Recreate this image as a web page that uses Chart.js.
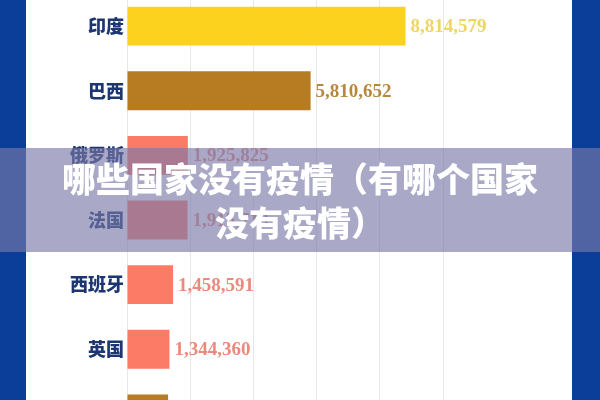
<!DOCTYPE html>
<html>
<head>
<meta charset="utf-8">
<script src="https://cdn.jsdelivr.net/npm/chart.js@4"></script>
<style>
  html, body { margin:0; padding:0; width:600px; height:400px; overflow:hidden; background:#0a3e98; }
  #panel { position:absolute; left:26px; top:0; width:546px; height:400px; background:#ffffff; }
  #wrap { position:absolute; left:0; top:-20px; width:600px; height:480px; }
  #banner { position:absolute; left:0; top:148px; width:600px; height:104px; background:rgba(120,120,168,0.64);
    display:flex; align-items:center; justify-content:center; text-align:center;
    color:#ffffff; font-family:"Noto Sans CJK SC", sans-serif; font-weight:900; font-size:34px; line-height:44px; }
</style>
</head>
<body>
<div id="panel"></div>
<div id="wrap"><canvas id="c"></canvas></div>
<div id="banner"><div>哪些国家没有疫情（有哪个国家<br>没有疫情）</div></div>
<script>
const categories = ["印度", "巴西", "俄罗斯", "法国", "西班牙", "英国", "阿根廷"];
const cases = [8814579, 5810652, 1925825, 1915713, 1458591, 1344360, 1300000];
const barColors = ["#fdd21f", "#b77b22", "#fc7b67", "#fc7b67", "#fc7b67", "#fc7b67", "#b77b22"];
const labelColors = ["#f0d466", "#b6883d", "#eb8a7c", "#eb8a7c", "#eb8a7c", "#eb8a7c", "#b6883d"];
const xTicks = [0, 2000000, 4000000, 6000000, 8000000, 10000000];

const valueLabels = {
  id: 'valueLabels',
  afterDatasetsDraw(chart) {
    const ctx = chart.ctx;
    const meta = chart.getDatasetMeta(0);
    ctx.save();
    ctx.font = 'bold 19px "Liberation Serif", serif';
    ctx.textBaseline = 'middle';
    ctx.textAlign = 'left';
    meta.data.forEach((bar, i) => {
      ctx.fillStyle = labelColors[i];
      ctx.fillText(cases[i].toLocaleString('en-US'), bar.x + 5, bar.y + 1);
    });
    ctx.restore();
  }
};

new Chart(document.getElementById('c'), {
  type: 'bar',
  data: {
    labels: categories,
    datasets: [{
      data: cases,
      backgroundColor: barColors,
      borderWidth: 0,
      barPercentage: 0.6,
      categoryPercentage: 1.0
    }]
  },
  options: {
    indexAxis: 'y',
    responsive: true,
    maintainAspectRatio: false,
    animation: false,
    layout: { padding: { left: 0, right: 157, top: 6, bottom: 12 } },
    plugins: { legend: { display: false }, tooltip: { enabled: false } },
    scales: {
      x: {
        min: 0, max: 10000000,
        afterBuildTicks(scale) { scale.ticks = xTicks.map(v => ({ value: v })); },
        afterFit(scale) { scale.height = 0; },
        ticks: { display: false },
        border: { display: false },
        grid: { color: '#e8e8e8', lineWidth: 1, drawTicks: false }
      },
      y: {
        afterFit(scale) { scale.width = 127; },
        grid: { display: false, drawTicks: false },
        border: { display: false },
        ticks: {
          padding: 3,
          color: '#1d3570',
          font: { family: '"Noto Sans CJK SC", sans-serif', size: 18, weight: '900' }
        }
      }
    }
  },
  plugins: [valueLabels]
});
</script>
</body>
</html>
